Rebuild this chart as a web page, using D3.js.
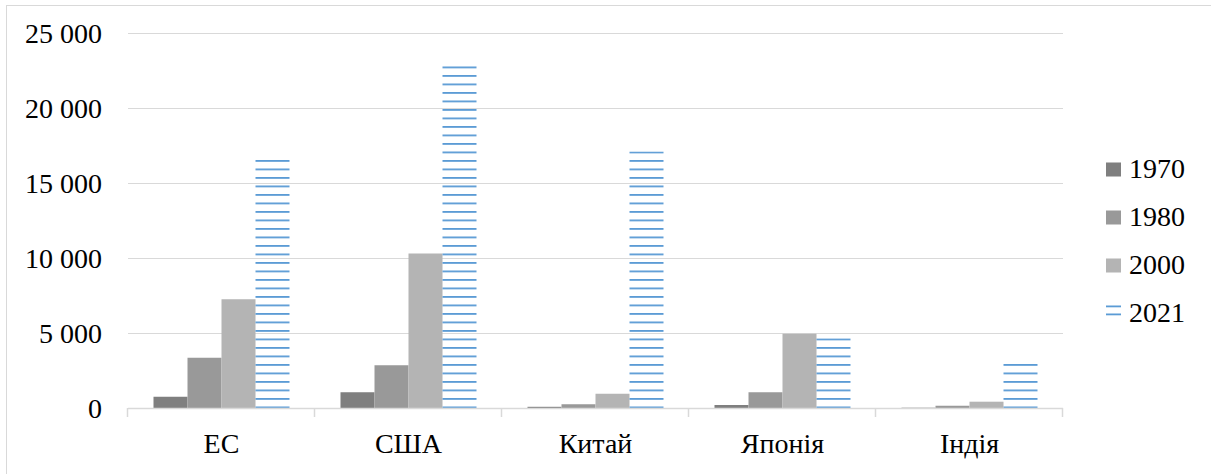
<!DOCTYPE html>
<html>
<head>
<meta charset="utf-8">
<script src="https://cdn.jsdelivr.net/npm/d3@7"></script>
<style>
html,body{margin:0;padding:0;background:#fff;}
svg{display:block;}
</style>
</head>
<body>
<svg id="chart" width="1211" height="474"></svg>
<script>
const categories = ["ЕС", "США", "Китай", "Японія", "Індія"];
const seriesNames = ["1970", "1980", "2000", "2021"];
const v1970 = [750, 1050, 80, 200, 20];
const v1980 = [3350, 2850, 250, 1050, 150];
const v2000 = [7250, 10300, 950, 4950, 420];
const v2021 = [16600, 22800, 17100, 4650, 3000];
const yTicks = [0, 5000, 10000, 15000, 20000, 25000];

const seriesValues = [v1970, v1980, v2000, v2021];
const colors = ["#7f7f7f", "#999999", "#b4b4b4", "#5b9bd5"];
const FONT = '"Liberation Serif"';

const svg = d3.select("#chart");
const plot = {left: 128, right: 1063, top: 33, bottom: 408};

// outer border (cropped on right/bottom)
svg.append("rect").attr("x", 6.5).attr("y", 5.5).attr("width", 1300).attr("height", 600)
  .attr("fill", "none").attr("stroke", "#d9d9d9").attr("stroke-width", 1);

const x0 = d3.scaleBand().domain(categories).range([plot.left, plot.right]).paddingInner(0).paddingOuter(0);
const groupPad = 1.5 / 5.5;
const groupWidth = x0.bandwidth() * (4 / 5.5);
const x1 = d3.scaleBand().domain(seriesNames)
  .range([x0.bandwidth() * groupPad / 2, x0.bandwidth() * groupPad / 2 + groupWidth]);

const y = d3.scaleLinear().domain([0, 25000]).range([plot.bottom, plot.top]);

// hatch pattern for 2021
const defs = svg.append("defs");
const step = 8.5;
const pat = defs.append("pattern").attr("id", "hatch").attr("patternUnits", "userSpaceOnUse")
  .attr("x", 0).attr("y", y(0) - 1.5).attr("width", 10).attr("height", step);
pat.append("rect").attr("x", 0).attr("y", 0).attr("width", 10).attr("height", 1.8).attr("fill", colors[3]);

const fmt = d => d3.format(",")(d).replace(/,/g, " ");

// gridlines
svg.append("g").selectAll("line").data(yTicks.filter(d => d > 0)).join("line")
  .attr("x1", plot.left).attr("x2", plot.right)
  .attr("y1", d => Math.round(y(d)) + 0.5).attr("y2", d => Math.round(y(d)) + 0.5)
  .attr("stroke", "#d9d9d9").attr("stroke-width", 1);

// y labels
svg.append("g").selectAll("text").data(yTicks).join("text")
  .attr("x", 102).attr("y", d => y(d) + 4)
  .attr("text-anchor", "end").attr("dominant-baseline", "middle")
  .style("font-family", FONT).style("font-size", "28px").attr("fill", "#000").text(fmt);

// bars
const bars = svg.append("g");
seriesValues.forEach((vals, si) => {
  bars.append("g").selectAll("rect").data(vals).join("rect")
    .attr("x", (d, i) => x0(categories[i]) + x1(seriesNames[si]))
    .attr("width", x1.bandwidth())
    .attr("y", d => y(d))
    .attr("height", d => y(0) - y(d))
    .attr("fill", si === 3 ? "url(#hatch)" : colors[si]);
});

// x axis line and ticks
const xa = svg.append("g");
xa.append("line").attr("x1", plot.left).attr("x2", plot.right)
  .attr("y1", y(0) + 0.5).attr("y2", y(0) + 0.5).attr("stroke", "#d9d9d9").attr("stroke-width", 1.5);
const bounds = categories.map(c => x0(c)).concat([plot.right]);
xa.selectAll("line.tk").data(bounds).join("line").attr("class", "tk")
  .attr("x1", d => Math.round(d) - 0.5).attr("x2", d => Math.round(d) - 0.5)
  .attr("y1", y(0)).attr("y2", y(0) + 9)
  .attr("stroke", "#d9d9d9").attr("stroke-width", 1.5);

// x labels
xa.selectAll("text").data(categories).join("text")
  .attr("x", d => x0(d) + x0.bandwidth() / 2).attr("y", 453)
  .attr("text-anchor", "middle")
  .style("font-family", FONT).style("font-size", "28px").attr("fill", "#000").text(d => d);

// legend
const legY = [169.5, 217.5, 265.5, 313.5];
const leg = svg.append("g");
seriesNames.forEach((s, i) => {
  const g = leg.append("g");
  if (i < 3) {
    g.append("rect").attr("x", 1106).attr("y", legY[i] - 7).attr("width", 15).attr("height", 14).attr("fill", colors[i]);
  } else {
    g.append("rect").attr("x", 1106).attr("y", legY[i] - 8).attr("width", 15).attr("height", 1.8).attr("fill", colors[3]);
    g.append("rect").attr("x", 1106).attr("y", legY[i]).attr("width", 15).attr("height", 1.8).attr("fill", colors[3]);
  }
  g.append("text").attr("x", 1129).attr("y", legY[i] + 2).attr("dominant-baseline", "middle")
    .style("font-family", FONT).style("font-size", "28px").attr("fill", "#000").text(s);
});
</script>
</body>
</html>
